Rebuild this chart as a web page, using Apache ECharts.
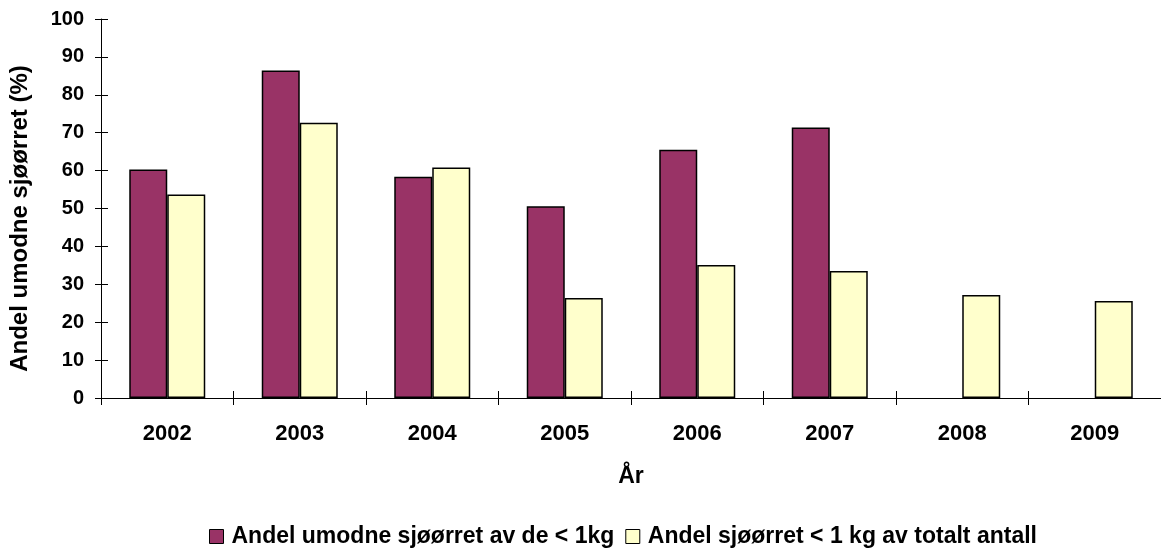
<!DOCTYPE html>
<html>
<head>
<meta charset="utf-8">
<script src="https://cdn.jsdelivr.net/npm/echarts@6/dist/echarts.min.js"></script>
<style>
  html, body { margin: 0; padding: 0; background: #fff; }
  #chart { width: 1161px; height: 550px; }
</style>
</head>
<body>
<div id="chart"></div>
<script>
  const years = ['2002', '2003', '2004', '2005', '2006', '2007', '2008', '2009']
  const umodneAvSmaa = [60.3, 86.4, 58.4, 50.6, 65.5, 71.4, null, null] // Andel umodne sjøørret av de < 1kg
  const smaaAvTotalt = [53.7, 72.6, 60.8, 26.4, 35.1, 33.5, 27.2, 25.6] // Andel sjøørret < 1 kg av totalt antall
  const yTicks = [0, 10, 20, 30, 40, 50, 60, 70, 80, 90, 100]

  const font = 'Liberation Sans, Arial, sans-serif'
  const chart = echarts.init(document.getElementById('chart'))

  chart.setOption({
    animation: false,
    color: ['#993366', '#FFFFCC'],
    grid: {
      left: 101,
      right: -6, // axis runs past the right edge in the original
      top: 19,
      bottom: 152
    },
    legend: {
      left: 204,
      top: 520,
      itemWidth: 14,
      itemHeight: 14,
      itemGap: 11,
      icon: 'rect',
      itemStyle: {borderColor: '#000', borderWidth: 1},
      textStyle: {fontFamily: font, fontWeight: 'bold', fontSize: 23, color: '#000', padding: [0, 0, 0, 3]},
      data: ['Andel umodne sjøørret av de < 1kg', 'Andel sjøørret < 1 kg av totalt antall']
    },
    xAxis: [
      {
        type: 'category',
        data: years,
        name: 'År',
        nameLocation: 'middle',
        nameGap: 67,
        nameTextStyle: {fontFamily: font, fontWeight: 'bold', fontSize: 23, color: '#000'},
        axisLine: {lineStyle: {color: '#000', width: 1}},
        axisTick: {show: true, length: 7, lineStyle: {color: '#000'}},
        axisLabel: {fontFamily: font, fontWeight: 'bold', fontSize: 22, color: '#000', margin: 25},
        splitLine: {show: false}
      },
      { // inward half of the crossing ticks
        type: 'category',
        data: years,
        position: 'bottom',
        axisLine: {show: false},
        axisTick: {show: true, inside: true, length: 7, lineStyle: {color: '#000'}},
        axisLabel: {show: false},
        splitLine: {show: false}
      }
    ],
    yAxis: [
      {
        type: 'value',
        min: yTicks[0],
        max: yTicks[yTicks.length - 1],
        interval: 10,
        name: 'Andel umodne sjøørret (%)',
        nameLocation: 'middle',
        nameGap: 69,
        nameTextStyle: {fontFamily: font, fontWeight: 'bold', fontSize: 24, color: '#000', padding: [0, 20, 0, 0]},
        axisLine: {show: true, lineStyle: {color: '#000', width: 1}},
        axisTick: {show: true, length: 6, lineStyle: {color: '#000'}},
        axisLabel: {fontFamily: font, fontWeight: 'bold', fontSize: 20, color: '#000', margin: 17},
        splitLine: {show: false}
      },
      {
        type: 'value',
        min: yTicks[0],
        max: yTicks[yTicks.length - 1],
        interval: 10,
        position: 'left',
        axisLine: {show: false},
        axisTick: {show: true, inside: true, length: 7, lineStyle: {color: '#000'}},
        axisLabel: {show: false},
        splitLine: {show: false}
      }
    ],
    series: [
      {
        name: 'Andel umodne sjøørret av de < 1kg',
        type: 'bar',
        barWidth: 38,
        barGap: '0%',
        itemStyle: {borderColor: '#000', borderWidth: 1.5},
        data: umodneAvSmaa
      },
      {
        name: 'Andel sjøørret < 1 kg av totalt antall',
        type: 'bar',
        barWidth: 38,
        barGap: '0%',
        itemStyle: {borderColor: '#000', borderWidth: 1.5},
        data: smaaAvTotalt
      }
    ]
  })
</script>
</body>
</html>
